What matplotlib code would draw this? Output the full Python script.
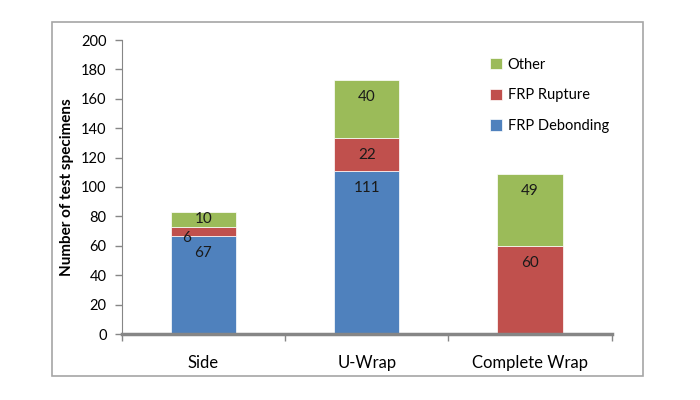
import numpy as np
import matplotlib.pyplot as plt
from matplotlib.patches import Rectangle

# data
categories = ['Side', 'U-Wrap', 'Complete Wrap']
debonding = [67, 111, 0]
rupture = [6, 22, 60]
other = [10, 40, 49]

plt.rcParams['font.family'] = ['Lato', 'DejaVu Sans']

fig = plt.figure(figsize=(7, 4), dpi=100)
fig.patch.set_facecolor('white')
# outer chart border
fig.patches.append(Rectangle((0.074, 0.06), 0.845, 0.885, transform=fig.transFigure,
                             fill=False, edgecolor='#a6a6a6', linewidth=1.2))

ax = fig.add_axes([0.174, 0.165, 0.7, 0.735])
x = np.arange(len(categories))
w = 0.4
ax.bar(x, debonding, w, color='#4F81BD', edgecolor='white', linewidth=0.5, label='FRP Debonding')
ax.bar(x, rupture, w, bottom=debonding, color='#C0504D', edgecolor='white', linewidth=0.5, label='FRP Rupture')
bot = np.array(debonding) + np.array(rupture)
ax.bar(x, other, w, bottom=bot, color='#9BBB59', edgecolor='white', linewidth=0.5, label='Other')

ax.set_xlim(-0.5, 2.5)
ax.set_ylim(0, 200)

# labels near the inside end of each segment, like excel does
fig.canvas.draw()
px_per_unit = ax.get_window_extent().height / 200
starts = [np.zeros(3), np.array(debonding), bot]
for vals, base in zip([debonding, rupture, other], starts):
    for i, v in enumerate(vals):
        if v <= 0:
            continue
        top = base[i] + v
        hpx = v * px_per_unit
        dx = 0
        if hpx >= 30:
            dy = -17
        elif hpx >= 12:
            dy = -hpx / 2
        else:
            # too thin: excel pushes the label down and to the left
            dy = -hpx - 2
            dx = -17
        ax.annotate(str(v), (x[i], top), xytext=(dx, dy), textcoords='offset pixels',
                    ha='center', va='center', fontsize=11, color='#1a1a1a')

ax.set_yticks(range(0, 201, 20))
ax.set_xticks(x)
ax.set_xticklabels(categories, fontsize=12)
ax.set_xticks([-0.5, 0.5, 1.5, 2.5], minor=True)
ax.tick_params(axis='x', which='major', length=0, pad=15)
ax.tick_params(axis='x', which='minor', length=5, color='#868686', width=1)
ax.tick_params(axis='y', length=5, color='#868686', width=1, labelsize=10.5, pad=6)
for s in ['top', 'right']:
    ax.spines[s].set_visible(False)
ax.spines['left'].set_color('#868686')
ax.spines['bottom'].set_color('#868686')
ax.spines['bottom'].set_linewidth(2.5)
ax.set_ylabel('Number of test specimens', fontsize=11, fontweight='bold', labelpad=5)

h, l = ax.get_legend_handles_labels()
ax.legend(h[::-1], l[::-1], loc='upper left', bbox_to_anchor=(0.725, 0.985), frameon=False,
          fontsize=10.5, handlelength=0.8, handleheight=0.8, labelspacing=1.15, handletextpad=0.4)

fig.savefig('out.png', dpi=100)
